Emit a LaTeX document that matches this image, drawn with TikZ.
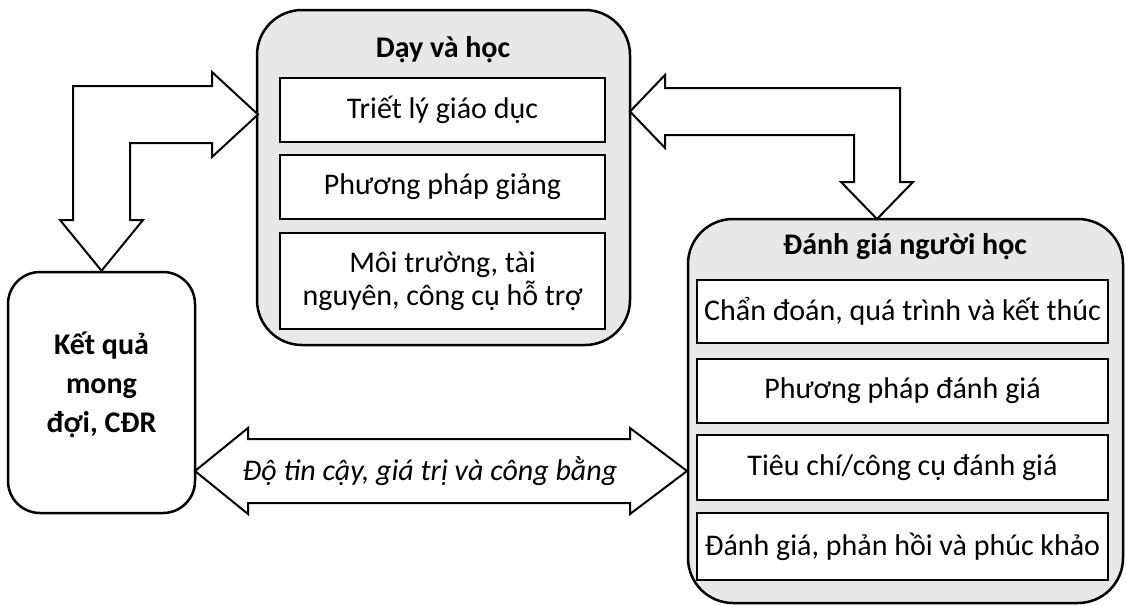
\documentclass[tikz,border=0pt]{standalone}
\usepackage{fontspec}
\setmainfont{Carlito}
\begin{document}
\begin{tikzpicture}[x=1pt,y=-1pt,
  outerbox/.style={draw=black, line width=2.5pt, fill=black!9, rounded corners=45pt, inner sep=0pt},
  sidebox/.style={draw=black, line width=2.5pt, fill=white, rounded corners=32pt, inner sep=0pt},
  sidetext/.style={inner sep=0pt, align=center, font=\fontsize{30}{39}\selectfont\bfseries},
  itembox/.style={draw=black, line width=2.8pt, fill=white, inner sep=0pt, align=center,
    font=\fontsize{30}{33}\selectfont},
  titletext/.style={inner sep=0pt, font=\fontsize{30}{36}\selectfont\bfseries},
  blockarrow/.style={draw=black, line width=2pt, fill=white, line join=miter},
  arrowtext/.style={inner sep=0pt, font=\fontsize{30}{36}\selectfont\itshape}
]
\useasboundingbox (0,0) rectangle (1127,605);

% outer containers
\node[outerbox, minimum width=373pt, minimum height=335pt] (dayhoc) at (443.5,177.5) {};
\node[outerbox, minimum width=435pt, minimum height=384pt] (danhgia) at (905.5,411) {};
\node[sidebox, minimum width=187pt, minimum height=241pt] (ketqua) at (101.5,392.5) {};
\node[sidetext] (ketquaT) at (101.5,385) {Kết quả\\mong\\đợi, CĐR};

% titles
\node[titletext] (dayhocT) at (443,50) {Dạy và học};
\node[titletext] (danhgiaT) at (905,247) {Đánh giá người học};

% items of Dạy và học
\node[itembox, minimum width=325pt, minimum height=64pt] (b1) at (442.5,110) {Triết lý giáo dục};
\node[itembox, minimum width=325pt, minimum height=64pt] (b2) at (442.5,187) {Phương pháp giảng};
\node[itembox, minimum width=325pt, minimum height=96pt] (b3) at (442.5,281) {Môi trường, tài\\nguyên, công cụ hỗ trợ};

% items of Đánh giá người học
\node[itembox, minimum width=411pt, minimum height=63pt] (r1) at (902.5,311.5) {Chẩn đoán, quá trình và kết thúc};
\node[itembox, minimum width=411pt, minimum height=64pt] (r2) at (902.5,391) {Phương pháp đánh giá};
\node[itembox, minimum width=411pt, minimum height=65pt] (r3) at (902.5,467.5) {Tiêu chí/công cụ đánh giá};
\node[itembox, minimum width=411pt, minimum height=67pt] (r4) at (902.5,546.5) {Đánh giá, phản hồi và phúc khảo};

% arrow tips
\coordinate (t1a) at (258,114.5);
\coordinate (t1b) at (ketqua.north);
\coordinate (t2a) at (630,111.5);
\coordinate (t2b) at (877,219);
\coordinate (t3a) at (195,471);
\coordinate (t3b) at (687,471);

% block arrow: Kết quả <-> Dạy và học
\draw[blockarrow] (t1a) -- (212,72) -- (212,86) -- (73,86) -- (73,220) -- (60,220)
  -- (t1b) -- (143,220) -- (130,220) -- (130,143) -- (212,143) -- (212,157) -- cycle;

% block arrow: Dạy và học <-> Đánh giá người học
\draw[blockarrow] (t2a) -- (665,75) -- (665,88) -- (900,88) -- (900,182) -- (913,182)
  -- (t2b) -- (841,182) -- (854,182) -- (854,135) -- (665,135) -- (665,148) -- cycle;

% block arrow: Kết quả <-> Đánh giá người học
\draw[blockarrow] (t3a) -- (248,428) -- (248,439) -- (630,439) -- (630,428) -- (t3b)
  -- (630,514) -- (630,503) -- (248,503) -- (248,514) -- cycle;
\node[arrowtext] (t3text) at (430,471) {Độ tin cậy, giá trị và công bằng};
\end{tikzpicture}
\end{document}
